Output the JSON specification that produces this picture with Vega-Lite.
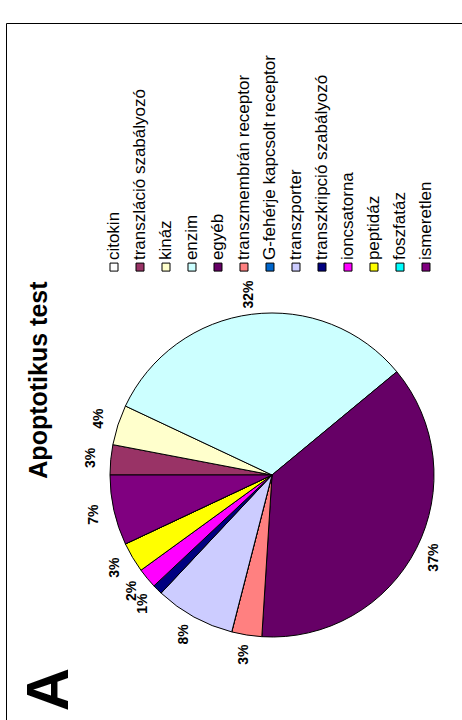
{
  "$schema": "https://vega.github.io/schema/vega-lite/v6.json",
  "width": 462,
  "height": 720,
  "autosize": {"type": "fit", "contains": "padding"},
  "padding": {"left": 6, "top": 5, "right": -76, "bottom": -207},
  "background": "white",
  "config": {"view": {"stroke": "#000000", "strokeWidth": 1}},
  "data": {
    "values": [
      {"c": "citokin", "i": 1, "v": 0},
      {"c": "transzláció szabályozó", "i": 2, "v": 0.03},
      {"c": "kináz", "i": 3, "v": 0.04},
      {"c": "enzim", "i": 4, "v": 0.32},
      {"c": "egyéb", "i": 5, "v": 0.37},
      {"c": "transzmembrán receptor", "i": 6, "v": 0.03},
      {"c": "G-fehérje kapcsolt receptor", "i": 7, "v": 0},
      {"c": "transzporter", "i": 8, "v": 0.08},
      {"c": "transzkripció szabályozó", "i": 9, "v": 0.01},
      {"c": "ioncsatorna", "i": 10, "v": 0.02},
      {"c": "peptidáz", "i": 11, "v": 0.03},
      {"c": "foszfatáz", "i": 12, "v": 0},
      {"c": "ismeretlen", "i": 13, "v": 0.07}
    ]
  },
  "resolve": {"scale": {"x": "independent"}},
  "layer": [
    {
      "mark": {"type": "arc", "outerRadius": 162, "stroke": "#000000", "strokeWidth": 1},
      "encoding": {
        "theta": {"field": "v", "type": "quantitative", "stack": true, "scale": {"range": [4.712389, 10.995574]}},
        "order": {"field": "i", "type": "quantitative"},
        "fill": {
          "field": "c", "type": "nominal", "legend": null,
          "scale": {
            "domain": ["citokin", "transzláció szabályozó", "kináz", "enzim", "egyéb", "transzmembrán receptor", "G-fehérje kapcsolt receptor", "transzporter", "transzkripció szabályozó", "ioncsatorna", "peptidáz", "foszfatáz", "ismeretlen"],
            "range": ["#FFFFFF", "#993366", "#FFFFCC", "#CCFFFF", "#660066", "#FF8080", "#0066CC", "#CCCCFF", "#000080", "#FF00FF", "#FFFF00", "#00FFFF", "#800080"]
          }
        }
      }
    },
    {
      "transform": [{"filter": "datum.v > 0"}],
      "mark": {"type": "text", "radius": 182, "angle": 270, "font": "Liberation Sans", "fontSize": 14, "fontWeight": "bold", "align": "center", "baseline": "middle", "color": "#000000"},
      "encoding": {
        "theta": {"field": "v", "type": "quantitative", "stack": true},
        "order": {"field": "i", "type": "quantitative"},
        "text": {"field": "v", "type": "quantitative", "format": ".0%"}
      }
    },
    {
      "mark": {"type": "point", "shape": "square", "size": 64, "filled": true, "opacity": 1, "stroke": "#000000", "strokeWidth": 1},
      "encoding": {
        "x": {"field": "i", "type": "quantitative", "scale": {"domain": [-3.154, 17.308], "nice": false, "zero": false}, "axis": null},
        "y": {"datum": 0.27, "type": "quantitative", "scale": {"domain": [0, 1], "reverse": true}, "axis": null},
        "fill": {"field": "c", "type": "nominal", "legend": null}
      }
    },
    {
      "mark": {"type": "text", "angle": 270, "align": "left", "baseline": "middle", "dx": 7, "font": "Liberation Sans", "fontSize": 17, "color": "#000000"},
      "encoding": {
        "x": {"field": "i", "type": "quantitative", "scale": {"domain": [-3.154, 17.308], "nice": false, "zero": false}, "axis": null},
        "y": {"datum": 0.27, "type": "quantitative", "scale": {"domain": [0, 1], "reverse": true}, "axis": null},
        "text": {"field": "c", "type": "nominal"}
      }
    },
    {
      "data": {"values": [{"t": "Apoptotikus test"}]},
      "mark": {"type": "text", "angle": 270, "align": "center", "baseline": "middle", "font": "Liberation Sans", "fontSize": 25, "fontWeight": "bold", "color": "#000000"},
      "encoding": {
        "x": {"datum": 0.062, "type": "quantitative", "scale": {"domain": [0, 1]}, "axis": null},
        "y": {"datum": 0.395, "type": "quantitative", "scale": {"domain": [0, 1], "reverse": true}, "axis": null},
        "text": {"field": "t", "type": "nominal"}
      }
    },
    {
      "data": {"values": [{"t": "A"}]},
      "mark": {"type": "text", "angle": 270, "align": "center", "baseline": "middle", "font": "Liberation Sans", "fontSize": 60, "fontWeight": "bold", "color": "#000000"},
      "encoding": {
        "x": {"datum": 0.0827, "type": "quantitative", "scale": {"domain": [0, 1]}, "axis": null},
        "y": {"datum": 0.7375, "type": "quantitative", "scale": {"domain": [0, 1], "reverse": true}, "axis": null},
        "text": {"field": "t", "type": "nominal"}
      }
    }
  ]
}
